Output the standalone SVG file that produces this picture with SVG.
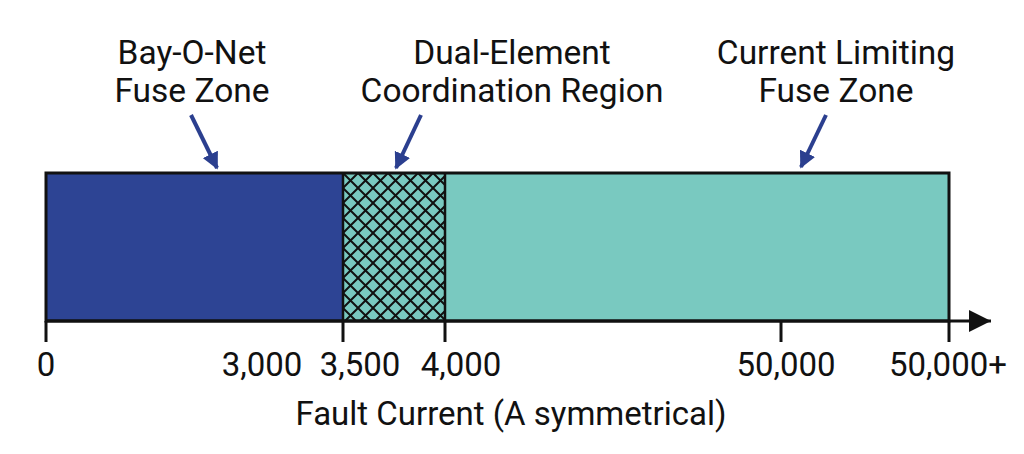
<svg xmlns="http://www.w3.org/2000/svg" width="1024" height="454" viewBox="0 0 1024 454">
<style>
.lbl{font-family:Roboto,"Liberation Sans",sans-serif;font-size:33.5px;fill:#111;text-anchor:middle}
.tick{font-family:Roboto,"Liberation Sans",sans-serif;font-size:33px;fill:#111;text-anchor:middle}
.ptr{stroke:#2b3f8f;stroke-width:4;fill:none}
.ax{stroke:#111;stroke-width:3;fill:none}
</style>
<defs>
<marker id="ah" viewBox="0 0 10 10" refX="9" refY="5" markerWidth="4.2" markerHeight="4.2" markerUnits="strokeWidth" orient="auto">
<path d="M0,0 L10,5 L0,10 Z" fill="#2b3f8f"/>
</marker>
<marker id="axh" viewBox="0 0 10 10" refX="10" refY="5" markerWidth="7.5" markerHeight="7.5" markerUnits="strokeWidth" orient="auto">
<path d="M0,0 L10,5 L0,10 Z" fill="#111"/>
</marker>
<pattern id="hatch" patternUnits="userSpaceOnUse" width="15" height="15" x="343" y="173">
<rect width="15" height="15" fill="#79c9c0"/>
<path d="M-1,-1 L16,16 M16,-1 L-1,16" stroke="#111" stroke-width="2"/>
</pattern>
</defs>
<rect width="1024" height="454" fill="#fff"/>
<g id="bay-o-net-zone">
<rect x="46" y="173" width="297" height="148" fill="#2d4494"/>
</g>
<g id="dual-element-zone">
<rect x="343" y="173" width="102" height="148" fill="url(#hatch)"/>
</g>
<g id="current-limiting-zone">
<rect x="445" y="173" width="504" height="148" fill="#79c9c0"/>
</g>
<g id="bar-outline">
<rect x="46" y="173" width="903" height="148" fill="none" stroke="#111" stroke-width="3"/>
<line x1="343" y1="173" x2="343" y2="321" stroke="#111" stroke-width="2.5"/>
<line x1="445" y1="173" x2="445" y2="321" stroke="#111" stroke-width="2.5"/>
</g>
<g id="axis">
<line class="ax" x1="46" y1="321" x2="991" y2="321" marker-end="url(#axh)"/>
<line class="ax" x1="46" y1="321" x2="46" y2="342"/>
<line class="ax" x1="343" y1="321" x2="343" y2="342"/>
<line class="ax" x1="445" y1="321" x2="445" y2="342"/>
<line class="ax" x1="781" y1="321" x2="781" y2="342"/>
<line class="ax" x1="949" y1="321" x2="949" y2="342"/>
<text class="tick" x="46" y="376">0</text>
<text class="tick" x="262" y="376">3,000</text>
<text class="tick" x="360" y="376">3,500</text>
<text class="tick" x="461" y="376">4,000</text>
<text class="tick" x="786" y="376">50,000</text>
<text class="tick" x="948" y="376">50,000+</text>
<text class="tick" x="511" y="425">Fault Current (A symmetrical)</text>
</g>
<g id="labels">
<text class="lbl" x="192" y="64">Bay-O-Net</text>
<text class="lbl" x="192" y="102">Fuse Zone</text>
<text class="lbl" x="512" y="64">Dual-Element</text>
<text class="lbl" x="512" y="102">Coordination Region</text>
<text class="lbl" x="836" y="64">Current Limiting</text>
<text class="lbl" x="836" y="102">Fuse Zone</text>
</g>
<g id="connectors">
<line class="ptr" x1="191" y1="115" x2="217" y2="168" marker-end="url(#ah)"/>
<line class="ptr" x1="421" y1="115" x2="396" y2="168" marker-end="url(#ah)"/>
<line class="ptr" x1="826" y1="115" x2="801" y2="167" marker-end="url(#ah)"/>
</g>
</svg>
